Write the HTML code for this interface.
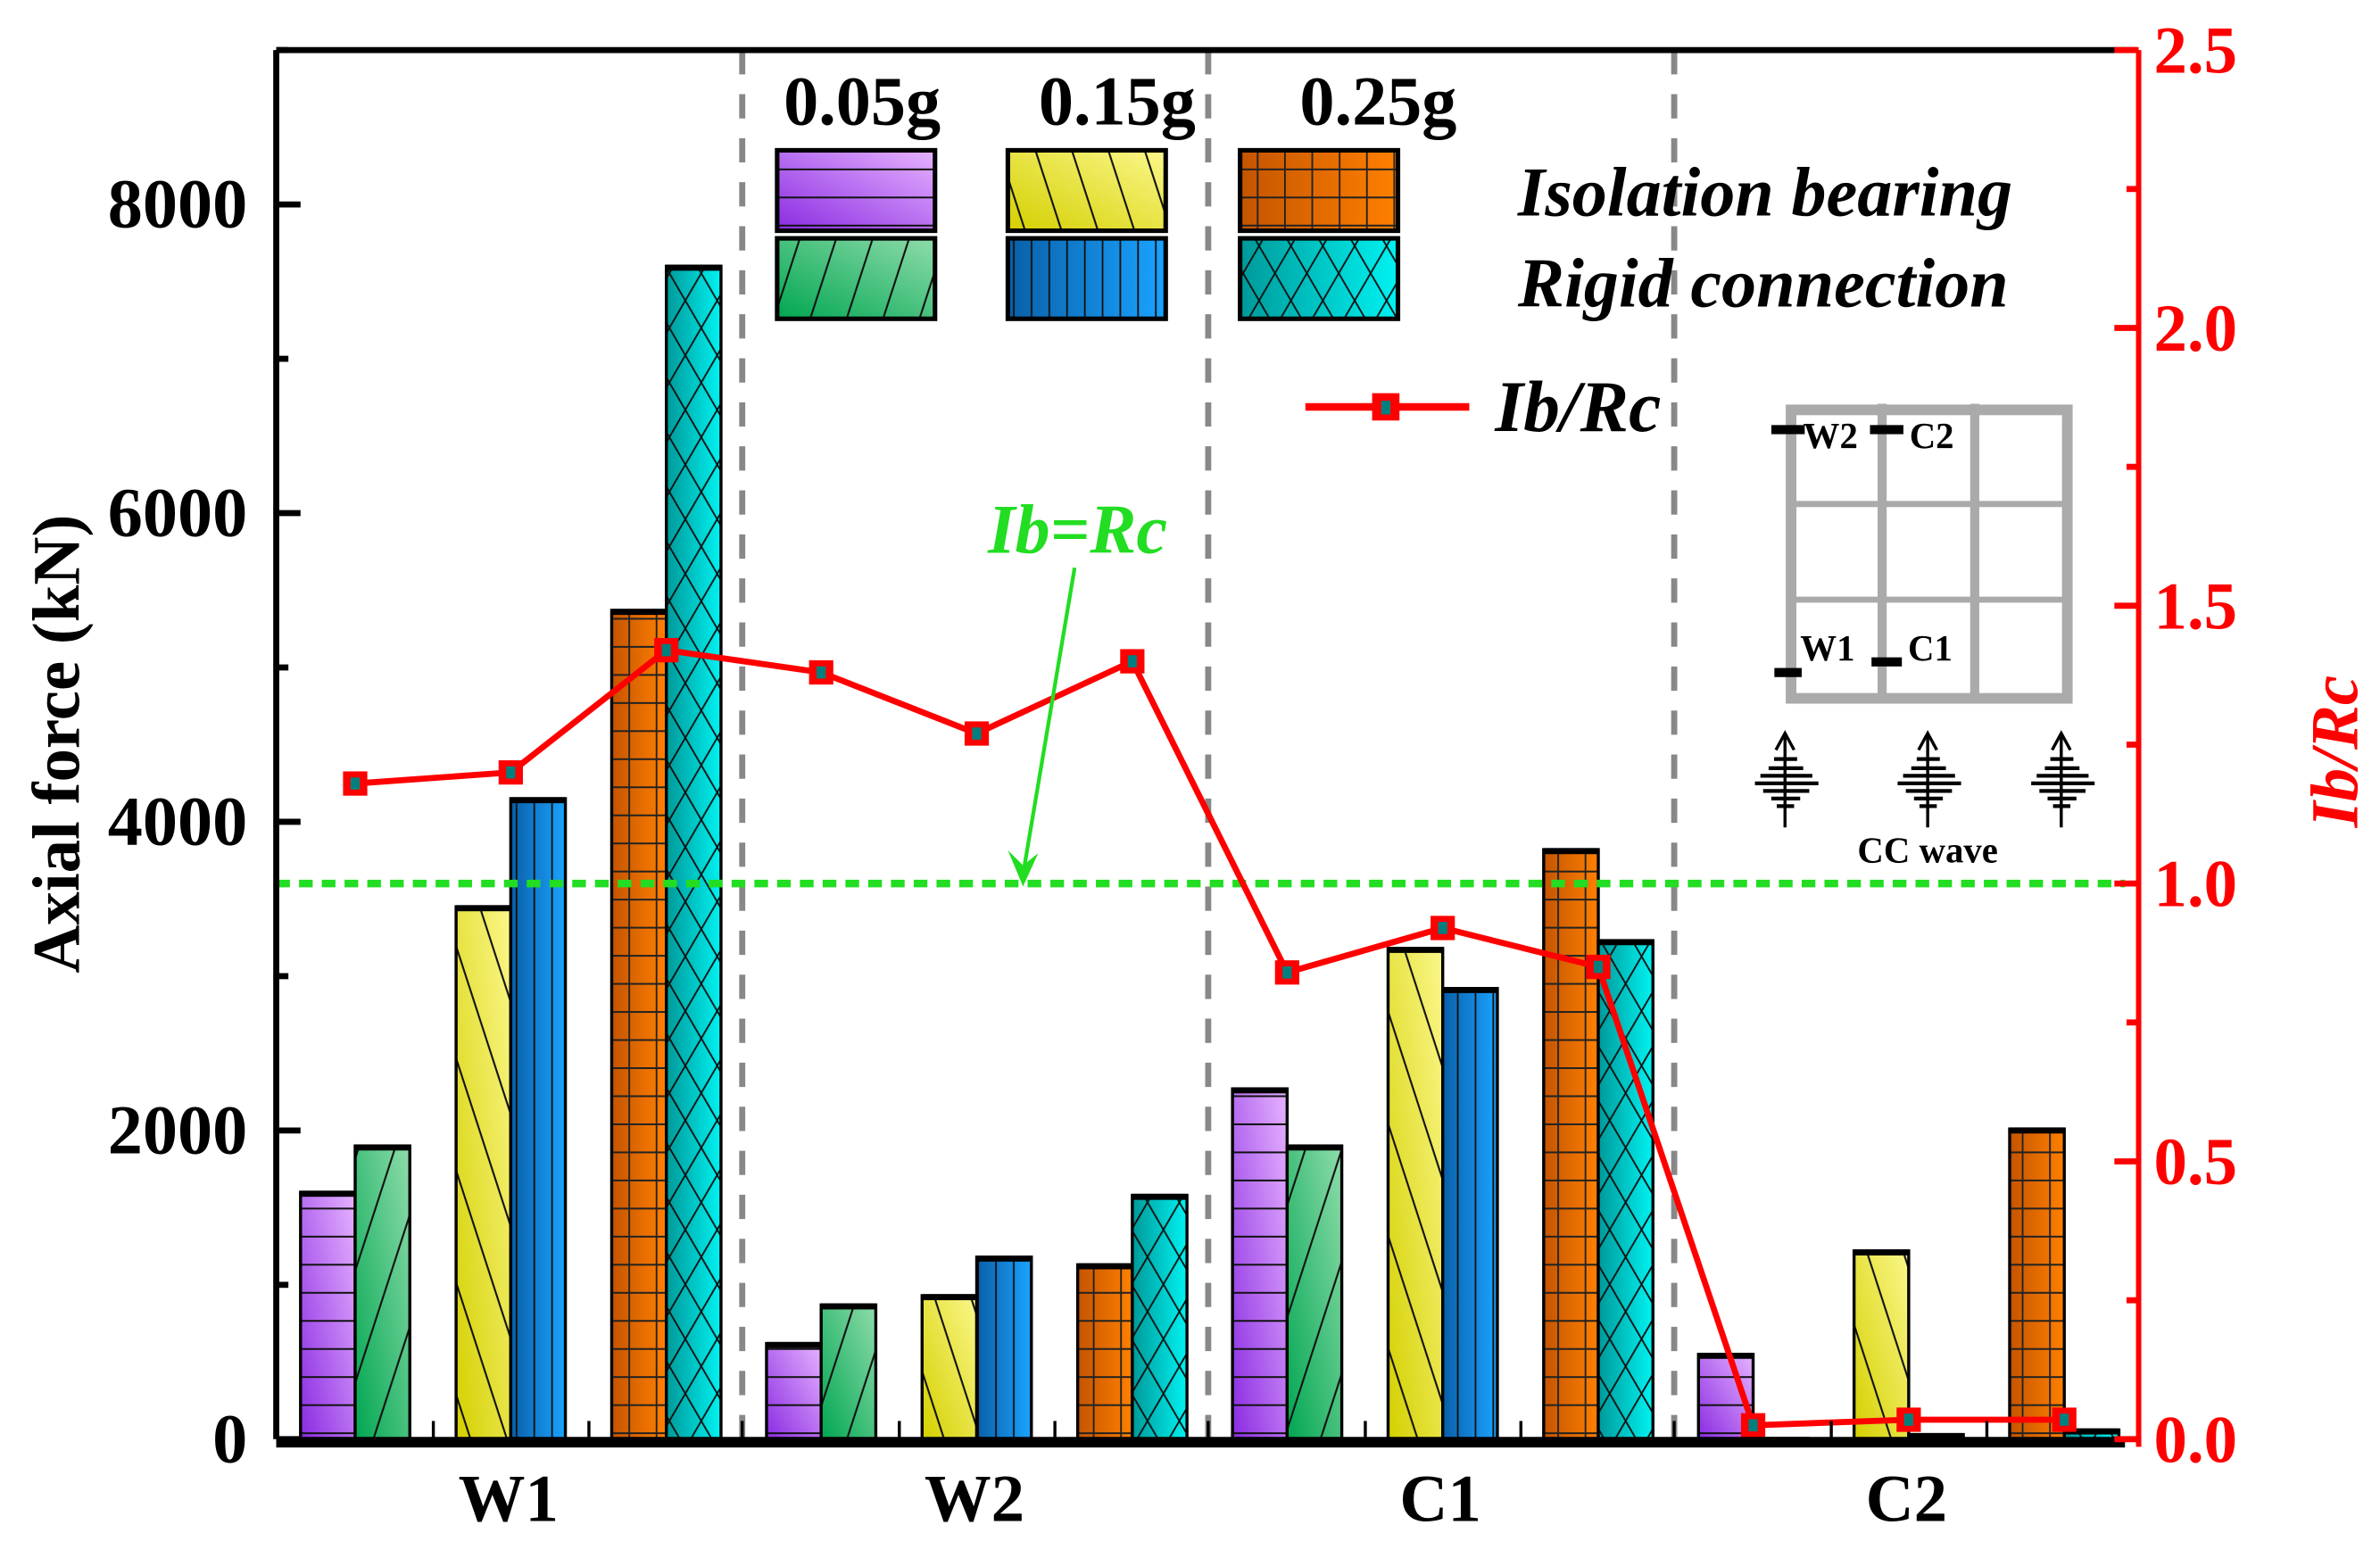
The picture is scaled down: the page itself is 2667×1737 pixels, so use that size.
<!DOCTYPE html>
<html><head><meta charset="utf-8"><style>
html,body{margin:0;padding:0;background:#fff;}
svg{display:block;}
text{font-family:"Liberation Serif",serif;font-weight:bold;}
</style></head><body>
<svg id="chart" width="2667" height="1737" viewBox="0 0 1568 1021" preserveAspectRatio="none" xmlns="http://www.w3.org/2000/svg">
<defs>
<linearGradient id="gPurple" x1="0" y1="1" x2="1" y2="0"><stop offset="0" stop-color="#8a2be2"/><stop offset="1" stop-color="#e6b3ff"/></linearGradient>
<linearGradient id="gGreen" x1="0" y1="1" x2="1" y2="0"><stop offset="0" stop-color="#00a651"/><stop offset="1" stop-color="#8fdcaa"/></linearGradient>
<linearGradient id="gYellow" x1="0" y1="1" x2="1" y2="0"><stop offset="0" stop-color="#d4d000"/><stop offset="1" stop-color="#fbf78a"/></linearGradient>
<linearGradient id="gBlue" x1="0" y1="0" x2="1" y2="0"><stop offset="0" stop-color="#0a5fa8"/><stop offset="1" stop-color="#1aa3ff"/></linearGradient>
<linearGradient id="gOrange" x1="0" y1="0" x2="1" y2="0"><stop offset="0" stop-color="#c45400"/><stop offset="1" stop-color="#ff8000"/></linearGradient>
<linearGradient id="gCyan" x1="0" y1="0" x2="1" y2="0"><stop offset="0" stop-color="#009999"/><stop offset="1" stop-color="#00f2f2"/></linearGradient>
<pattern id="pPurple" patternUnits="userSpaceOnUse" width="40" height="18.5"><line x1="0" y1="0.5" x2="40" y2="0.5" stroke="#111" stroke-width="1.3"/></pattern>
<pattern id="pGreen" patternUnits="userSpaceOnUse" width="24" height="60" patternTransform="skewX(-18)"><line x1="2" y1="0" x2="2" y2="60" stroke="#111" stroke-width="1.3"/></pattern>
<pattern id="pYellow" patternUnits="userSpaceOnUse" width="24" height="60" patternTransform="skewX(18)"><line x1="2" y1="0" x2="2" y2="60" stroke="#111" stroke-width="1.3"/></pattern>
<pattern id="pBlue" patternUnits="userSpaceOnUse" width="11.7" height="20"><line x1="1" y1="0" x2="1" y2="20" stroke="#111" stroke-width="1.1"/></pattern>
<pattern id="pOrange" patternUnits="userSpaceOnUse" width="18" height="18.5"><line x1="0" y1="0.5" x2="18" y2="0.5" stroke="#222" stroke-width="1.4"/><line x1="0.5" y1="0" x2="0.5" y2="18.5" stroke="#222" stroke-width="1.2"/></pattern>
<pattern id="pCyan" patternUnits="userSpaceOnUse" width="21" height="36"><path d="M0 0 L21 36 M21 0 L0 36" stroke="#111" stroke-width="1.1"/></pattern>
</defs>
<g id="bars"></g>
<g id="frame"></g>
<g id="legend"></g>
</svg>
<script>
const categories = ["W1","W2","C1","C2"];
const levels = ["0.05g","0.15g","0.25g"];
const isolation = [[1600,3450,5370],[620,930,1130],[2270,3180,3820],[550,1220,2010]];
const rigid = [[1900,4150,7600],[870,1180,1580],[1900,2920,3230],[5,30,60]];
const ratio = [[1.18,1.20,1.42],[1.38,1.27,1.40],[0.84,0.92,0.85],[0.025,0.035,0.035]];
const leftTicks = [0,2000,4000,6000,8000];
const rightTicks = ["0.0","0.5","1.0","1.5","2.0","2.5"];

const NS="http://www.w3.org/2000/svg";
const X0=182,X1=1397,Y0=948,YT=33;
const yL=v=>Y0-(v/9000)*(Y0-YT);
const yR=v=>Y0-(v/2.5)*(Y0-YT);
const groupW=307,barW=36;
const pairX=(g,p)=>X0+g*groupW+16+p*102.5;
function mk(tag,attrs,parent,txt){const e=document.createElementNS(NS,tag);for(const k in attrs)e.setAttribute(k,attrs[k]);if(txt!==undefined)e.textContent=txt;parent.appendChild(e);return e;}
const svg=document.getElementById('chart');
const bars=document.getElementById('bars');
const frame=document.getElementById('frame');
const legend=document.getElementById('legend');
const isoStyles=[["gPurple","pPurple"],["gYellow","pYellow"],["gOrange","pOrange"]];
const rigStyles=[["gGreen","pGreen"],["gBlue","pBlue"],["gCyan","pCyan"]];
function bar(x,v,st,name){
  const y=yL(v),h=Y0-y;
  const g=mk('g',{},bars);
  
  
  mk('rect',{x:x,y:y,width:barW,height:h,fill:'url(#'+st[0]+')'},g);
  mk('rect',{x:x,y:y,width:barW,height:h,fill:'url(#'+st[1]+')'},g);
  mk('rect',{x:x,y:y,width:barW,height:h,fill:'none',stroke:'#000','stroke-width':2},g);
  if(h>3) mk('rect',{x:x,y:y-1,width:barW,height:4,fill:'#000'},g);
}
for(let g=1;g<4;g++){
  const l=mk('line',{x1:X0+g*groupW,y1:YT,x2:X0+g*groupW,y2:Y0,stroke:'#888','stroke-width':4,'stroke-dasharray':'16 13'},bars);
  
  
}
categories.forEach((c,g)=>{
  for(let p=0;p<3;p++){
    const x=pairX(g,p);
    bar(x,isolation[g][p],isoStyles[p],'bar-'+c.toLowerCase()+'-isolation-'+levels[p]);
    bar(x+barW,rigid[g][p],rigStyles[p],'bar-'+c.toLowerCase()+'-rigid-'+levels[p]);
  }
  const t=mk('text',{x:X0+g*groupW+153,y:1002,'font-size':44,'text-anchor':'middle'},frame,c);
  
  
});
const ref=mk('line',{x1:X0,y1:yR(1),x2:1400,y2:yR(1),stroke:'#22dd22','stroke-width':5,'stroke-dasharray':'9 6'},frame);


let pts=[];
categories.forEach((c,g)=>{for(let p=0;p<3;p++)pts.push([pairX(g,p)+barW,yR(ratio[g][p])]);});
const pl=mk('polyline',{points:pts.map(p=>p.join(',')).join(' '),fill:'none',stroke:'#ff0000','stroke-width':4},frame);


pts.forEach(p=>{
  const m=mk('rect',{x:p[0]-8,y:p[1]-8,width:16,height:16,fill:'#ff0000'},frame);
  
  
  mk('rect',{x:p[0]-3,y:p[1]-4,width:6,height:8,fill:'#007f7f'},frame);
});
const ax=mk('g',{},frame);


mk('line',{x1:X0,y1:YT,x2:1408,y2:YT,stroke:'#000','stroke-width':4},ax);
mk('line',{x1:X0,y1:YT,x2:X0,y2:Y0,stroke:'#000','stroke-width':4},ax);
mk('line',{x1:X0,y1:Y0+2,x2:1400,y2:Y0+2,stroke:'#000','stroke-width':7},ax);
mk('line',{x1:1409,y1:YT,x2:1409,y2:Y0+5,stroke:'#ff0000','stroke-width':3.5},ax);
for(let v=0;v<=9000;v+=1000){
  const maj=v%2000===0;
  mk('line',{x1:X0,y1:yL(v),x2:X0+(maj?16:8),y2:yL(v),stroke:'#000','stroke-width':4},ax);
}
leftTicks.forEach(v=>{
  const t=mk('text',{x:163,y:yL(v)+15,'font-size':46,'text-anchor':'end'},ax,String(v));
  
  
});
for(let i=0;i<=10;i++){
  const v=i*0.25,maj=i%2===0;
  mk('line',{x1:1409,y1:yR(v),x2:1409-(maj?16:8),y2:yR(v),stroke:'#ff0000','stroke-width':4},ax);
}
rightTicks.forEach(s=>{
  const t=mk('text',{x:1419,y:yR(parseFloat(s))+15,'font-size':44,fill:'#ff0000'},ax,s);
  
  
});
for(let g=0;g<4;g++)for(let p=1;p<3;p++){
  const x=pairX(g,p)-15;
  mk('line',{x1:x,y1:Y0,x2:x,y2:Y0-12,stroke:'#000','stroke-width':2},ax);
}
for(let g=1;g<4;g++){const x=X0+g*groupW;mk('line',{x1:x,y1:Y0,x2:x,y2:Y0-12,stroke:'#000','stroke-width':2},ax);}
const yt=mk('text',{x:0,y:0,'font-size':44,'text-anchor':'middle',transform:'translate(52,490) rotate(-90)'},frame,'Axial force (kN)');


const y2t=mk('text',{x:0,y:0,'font-size':44,'font-style':'italic',fill:'#ff0000','text-anchor':'middle',transform:'translate(1553,495) rotate(-90)'},frame,'Ib/Rc');


const ann=mk('text',{x:710,y:364,'font-size':46,'font-style':'italic',fill:'#22dd22','text-anchor':'middle'},frame,'Ib=Rc');


mk('line',{x1:708,y1:374,x2:675,y2:570,stroke:'#22dd22','stroke-width':2.5},frame);
mk('path',{d:'M664 560 L674 584 L684 562 L674 570 Z',fill:'#22dd22'},frame);
const lx=[512,664,817],lt=[515,683,855];
levels.forEach((lv,i)=>{
  const t=mk('text',{x:lt[i]+53,y:82,'font-size':46,'text-anchor':'middle'},legend,lv);
  
  
  [[isoStyles[i],99],[rigStyles[i],157]].forEach(([st,y],k)=>{
    const g=mk('g',{},legend);
    
    
    mk('rect',{x:lx[i],y:y,width:104,height:53,fill:'url(#'+st[0]+')'},g);
    mk('rect',{x:lx[i],y:y,width:104,height:53,fill:'url(#'+st[1]+')'},g);
    mk('rect',{x:lx[i],y:y,width:104,height:53,fill:'none',stroke:'#000','stroke-width':3},g);
  });
});
const l1=mk('text',{x:1000,y:142,'font-size':46,'font-style':'italic'},legend,'Isolation bearing');


const l2=mk('text',{x:1000,y:202,'font-size':46,'font-style':'italic'},legend,'Rigid connection');


mk('line',{x1:860,y1:268,x2:968,y2:268,stroke:'#ff0000','stroke-width':5},legend);
mk('rect',{x:904,y:259,width:18,height:18,fill:'#ff0000'},legend);
mk('rect',{x:910,y:264,width:6,height:9,fill:'#007f7f'},legend);
const l3=mk('text',{x:985,y:284,'font-size':48,'font-style':'italic'},legend,'Ib/Rc');


const ins=mk('g',{},legend);


mk('rect',{x:1180,y:270,width:182,height:190,fill:'none',stroke:'#aaa','stroke-width':7},ins);
[1240,1301].forEach(x=>mk('line',{x1:x,y1:266,x2:x,y2:460,stroke:'#aaa','stroke-width':6},ins));
[332,395].forEach(y=>mk('line',{x1:1180,y1:y,x2:1362,y2:y,stroke:'#aaa','stroke-width':4},ins));
[[1167,283,22],[1232,283,22],[1169,443,18],[1233,436,20]].forEach(a=>mk('rect',{x:a[0],y:a[1]-3,width:a[2],height:6,fill:'#000'},ins));
[['W2',1188,295],['C2',1258,295],['W1',1186,435],['C1',1257,435]].forEach(a=>mk('text',{x:a[1],y:a[2],'font-size':24},ins,a[0]));
[1176,1270,1358].forEach(x=>{
  mk('line',{x1:x,y1:484,x2:x,y2:545,stroke:'#000','stroke-width':2},ins);
  mk('path',{d:`M${x-6} 494 L${x} 483 L${x+6} 494`,fill:'none',stroke:'#000','stroke-width':2},ins);
  [[500,8],[506,12],[511,18],[516,22],[521,16],[526,10],[531,6]].forEach(([y,w])=>mk('line',{x1:x-w*0.9,y1:y,x2:x+w,y2:y,stroke:'#000','stroke-width':2.5},ins));
});
const cc=mk('text',{x:1270,y:568,'font-size':24,'text-anchor':'middle'},ins,'CC wave');


</script>
</body></html>
